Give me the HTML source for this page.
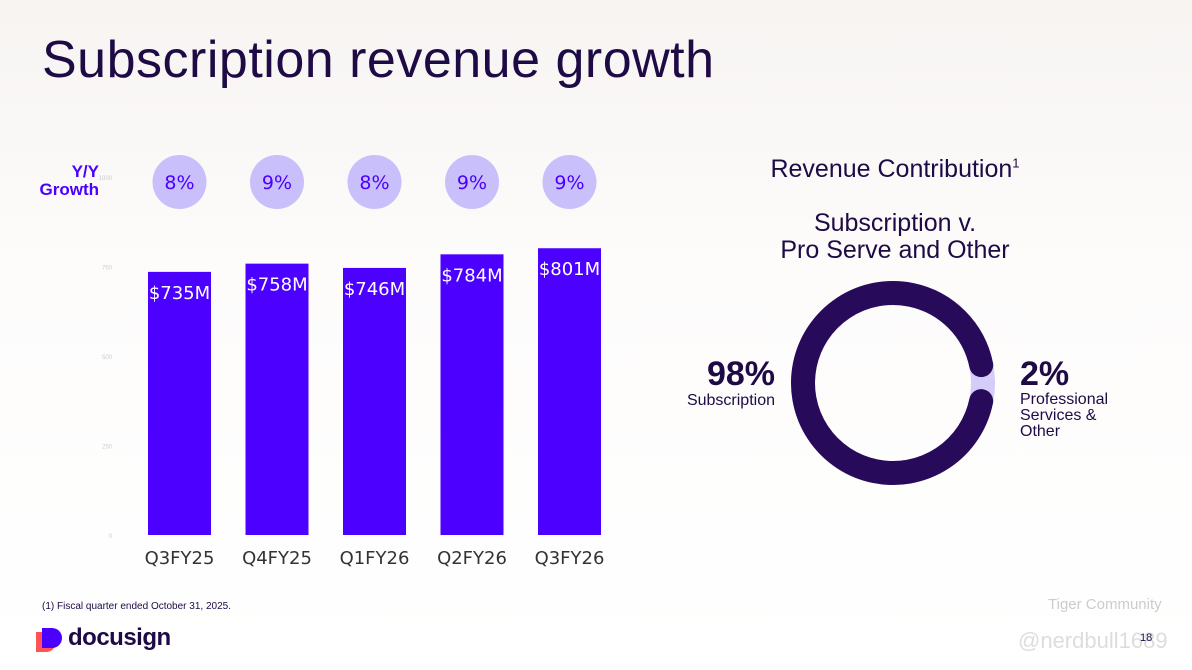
<!DOCTYPE html>
<html><head><meta charset="utf-8"><style>
body{margin:0;width:1192px;height:670px;overflow:hidden;background:linear-gradient(#f7f4f2,#fdfcfb 40%,#fff);font-family:"Liberation Sans",sans-serif;position:relative}
.abs{position:absolute}
</style></head><body>
<div class="abs" style="left:42px;top:30px;font-size:52px;color:#1e0a45;letter-spacing:0.5px">Subscription revenue growth</div>
<div class="abs" style="left:30px;top:163px;width:69px;text-align:right;font-weight:bold;font-size:17px;line-height:18px;color:#4b00ff">Y/Y<br>Growth</div>
<svg class="abs" style="left:0;top:0" width="1192" height="670">
<g id="bars"></g>
<g id="donut"></g>
</svg>
<div class="abs" style="left:700px;top:155px;width:390px;text-align:center;font-size:25px;color:#1e0a45">Revenue Contribution<sup style="font-size:13px">1</sup></div>
<div class="abs" style="left:700px;top:210px;width:390px;text-align:center;font-size:25px;line-height:27px;color:#1e0a45">Subscription v.<br>Pro Serve and Other</div>
<div class="abs" style="left:660px;top:356px;width:115px;text-align:right;color:#1e0a45"><div style="font-size:34px;font-weight:bold;line-height:36px">98%</div><div style="font-size:16px">Subscription</div></div>
<div class="abs" style="left:1020px;top:356px;color:#1e0a45"><div style="font-size:34px;font-weight:bold;line-height:36px">2%</div><div style="font-size:16px;line-height:16px">Professional<br>Services &amp;<br>Other</div></div>
<div class="abs" style="left:42px;top:601px;font-size:10px;color:#1e0a45">(1) Fiscal quarter ended October 31, 2025.</div>
<div class="abs" style="left:42px;top:624px;font-size:24px;font-weight:bold;color:#1e0a45;letter-spacing:-0.5px"><span style="display:inline-block;width:20px;height:20px;background:#4b00ff;border-radius:0 10px 10px 0;vertical-align:-3px;margin-right:6px;box-shadow:-6px 4px 0 #ff5252"></span>docusign</div>
<div class="abs" style="left:1048px;top:596px;font-size:15px;color:#ccc">Tiger Community</div>
<div class="abs" style="left:1018px;top:628px;font-size:22px;color:#ddd">@nerdbull1689</div>
<div class="abs" style="left:1140px;top:632px;font-size:11px;color:#1e0a45">18</div>
<script>
const categories=["Q3FY25","Q4FY25","Q1FY26","Q2FY26","Q3FY26"];
const revenue=[735,758,746,784,801];
const growth=["8%","9%","8%","9%","9%"];
const ticks=[0,250,500,750,1000];
const share=[98,2];
const NS="http://www.w3.org/2000/svg";
const y=v=>535-v*0.358;
const x=i=>148+i*97.5;
const bw=63;
const bars=document.getElementById('bars');
function mk(t,a,p){const e=document.createElementNS(NS,t);for(const k in a)e.setAttribute(k,a[k]);p.appendChild(e);return e;}
ticks.forEach(t=>{const e=mk('text',{x:112,y:y(t)+3,'font-size':6,fill:'#ccc','text-anchor':'end'},bars);e.textContent=t;

});
categories.forEach((c,i)=>{
const r=mk('rect',{x:x(i),y:y(revenue[i]),width:bw,height:y(0)-y(revenue[i]),fill:'#4c00ff'},bars);


const v=mk('text',{x:x(i)+bw/2,y:y(revenue[i])+27,'font-size':18,fill:'#fff','text-anchor':'middle','font-family':'DejaVu Sans'},bars);v.textContent='$'+revenue[i]+'M';


const l=mk('text',{x:x(i)+bw/2,y:564,'font-size':18,fill:'#333','text-anchor':'middle','font-family':'DejaVu Sans'},bars);l.textContent=c;


const ci=mk('circle',{cx:x(i)+bw/2,cy:182,r:27,fill:'#c9c0fb'},bars);


const g=mk('text',{x:x(i)+bw/2,y:189,'font-size':19,fill:'#4b00ff','text-anchor':'middle','font-family':'DejaVu Sans'},bars);g.textContent=growth[i];


});
const dn=document.getElementById('donut');
const cx=893,cy=383,R=90,sw=24,C=2*Math.PI*R;
const tot=share[0]+share[1];
const bg=mk('circle',{cx,cy,r:R,fill:'none',stroke:'#d4cdfa','stroke-width':sw},dn);


const gapDeg=share[1]/tot*360+16;
const arcLen=C*(360-gapDeg)/360;
const s=mk('circle',{cx,cy,r:R,fill:'none',stroke:'#280a5a','stroke-width':sw,'stroke-linecap':'round','stroke-dasharray':arcLen+' '+C,transform:`rotate(${gapDeg/2} ${cx} ${cy})`},dn);


</script>
</body></html>
